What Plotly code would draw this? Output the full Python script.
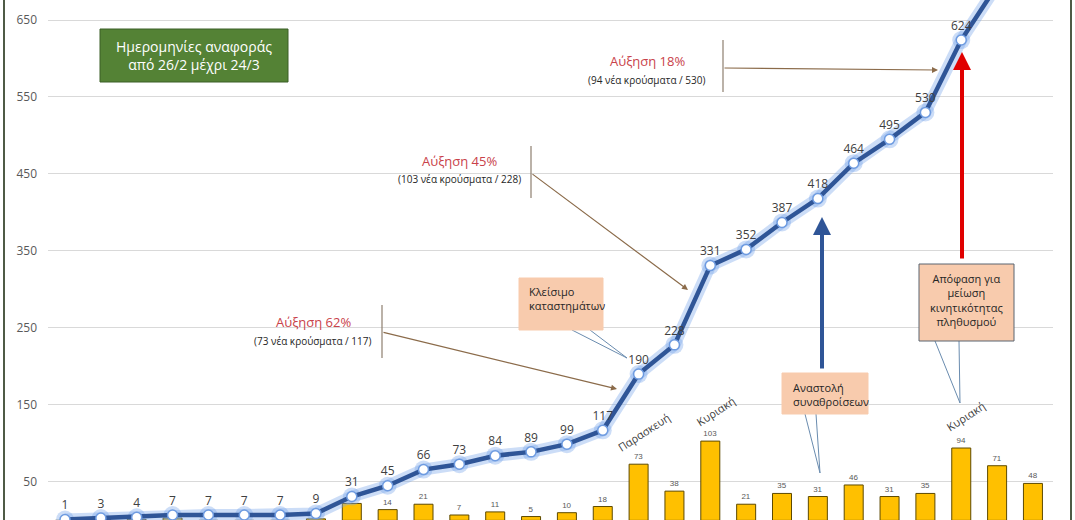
import plotly.graph_objects as go

# ---------------- data ----------------
dates = ["26/2", "27/2", "28/2", "29/2"] + [f"{d}/3" for d in range(1, 25)]
total_cases = [1, 3, 4, 7, 7, 7, 7, 9, 31, 45, 66, 73, 84, 89, 99, 117,
               190, 228, 331, 352, 387, 418, 464, 495, 530, 624, 695, 743]
new_cases = [0, 2, 1, 3, 0, 0, 0, 2, 22, 14, 21, 7, 11, 5, 10, 18,
             73, 38, 103, 21, 35, 31, 46, 31, 35, 94, 71, 48]
new_case_labels = ["" if i < 8 else str(v) for i, v in enumerate(new_cases)]
y_ticks = [50, 150, 250, 350, 450, 550, 650]
Y_MAX = 676

# ---------------- geometry helpers (layout only) ----------------
W, H = 1075, 520
PL, PR, PT, PB = 48, 1053, 0, 520
STEP = 35.85
X0 = 65


def px(x):
    return (x - PL) / (PR - PL)


def py(y):
    return 1 - (y - PT) / (PB - PT)


xs = list(range(len(dates)))
line_labels = [str(v) if v < Y_MAX - 20 else "" for v in total_cases]

fig = go.Figure()

# bars: daily new cases
fig.add_trace(go.Bar(
    x=xs, y=new_cases, text=new_case_labels, textposition="outside",
    textfont=dict(family="Liberation Sans", size=8, color="#595959"),
    marker=dict(color="#FFC000", line=dict(color="#5E4A00", width=1)),
    width=0.53, customdata=dates, hovertemplate="%{customdata}: %{y}<extra></extra>",
    cliponaxis=False,
))

# glow under the line
fig.add_trace(go.Scatter(
    x=xs, y=total_cases, mode="lines+markers",
    line=dict(color="rgba(120,165,235,0.38)", width=12),
    marker=dict(size=18, color="rgba(120,165,235,0.38)"),
    hoverinfo="skip",
))

# main cumulative line
fig.add_trace(go.Scatter(
    x=xs, y=total_cases, mode="lines+markers+text",
    text=line_labels, textposition="top center",
    textfont=dict(family="Open Sans", size=12, color="#404040"),
    line=dict(color="#2F5597", width=4.5),
    marker=dict(size=10, color="white", line=dict(color="#6E9BE0", width=1.5)),
    customdata=dates, hovertemplate="%{customdata}: %{y}<extra></extra>",
))

shapes = []
annotations = []


def note(x, y, text, size, color, family="Open Sans", **kw):
    d = dict(xref="paper", yref="paper", x=px(x), y=py(y), text=text,
             showarrow=False, xanchor="center", yanchor="middle",
             font=dict(family=family, size=size, color=color))
    d.update(kw)
    annotations.append(d)


# outer frame lines
for fx in (4, 1071):
    shapes.append(dict(type="line", xref="paper", yref="paper",
                       x0=px(fx), x1=px(fx), y0=0, y1=1,
                       line=dict(color="#4F5B46", width=2)))

# green info box
shapes.append(dict(type="rect", xref="paper", yref="paper",
                   x0=px(100), x1=px(288), y0=py(82), y1=py(29),
                   fillcolor="#548235", line=dict(color="#3B5E26", width=1)))
note(194, 55.5, "Ημερομηνίες αναφοράς<br>από 26/2 μέχρι 24/3", 14, "white")

# increase annotations
incr = [
    ("Αύξηση 62%", "(73 νέα κρούσματα / 117)", 313, 322, 341, 382, 305, 358, 332, 617, 389),
    ("Αύξηση 45%", "(103 νέα κρούσματα / 228)", 459, 161, 179, 531, 146, 198, 173, 688, 290),
    ("Αύξηση 18%", "(94 νέα κρούσματα / 530)", 647, 61, 80, 723, 40, 92, 68, 938, 70),
]
for t1, t2, cx, y1, y2, bx, by0, by1, ay_, tx, ty in incr:
    note(cx, y1, t1, 13, "#C9424A")
    note(cx, y2, t2, 10, "#262626")
    shapes.append(dict(type="line", xref="paper", yref="paper",
                       x0=px(bx), x1=px(bx), y0=py(by1), y1=py(by0),
                       line=dict(color="#8E7F6F", width=1.2)))
    annotations.append(dict(xref="paper", yref="paper", x=px(tx), y=py(ty), text="",
                            showarrow=True, axref="pixel", ayref="pixel",
                            ax=bx - tx, ay=ay_ - ty, arrowhead=2, arrowsize=1,
                            arrowwidth=1.2, arrowcolor="#8B6B4A"))

# callout boxes
callouts = [
    ("Κλείσιμο<br>καταστημάτων", 519, 603, 278, 330, "left", 527, 298,
     [(572, 330), (590, 330)], (627, 358), None),
    ("Αναστολή<br>συναθροίσεων", 782, 868, 373, 414, "left", 791, 394.5,
     [(805, 414), (816, 414)], (820, 473), None),
    ("Απόφαση για<br>μείωση<br>κινητικότητας<br>πληθυσμού", 919, 1014, 264, 341, "center", 966.5, 300,
     [(935, 341), (959, 341)], (960, 403), "#5A6570"),
]
for txt, x0, x1, y0, y1, al, tx, ty, bases, tip, border in callouts:
    for bxp, byp in bases:
        shapes.append(dict(type="line", xref="paper", yref="paper",
                           x0=px(bxp), x1=px(tip[0]), y0=py(byp), y1=py(tip[1]),
                           line=dict(color="#6A8CAF", width=1)))
    shapes.append(dict(type="rect", xref="paper", yref="paper",
                       x0=px(x0), x1=px(x1), y0=py(y1), y1=py(y0),
                       fillcolor="#F8CBAD",
                       line=dict(color=border if border else "#F8CBAD", width=1)))
    note(tx, ty, txt, 11, "#262626", xanchor="left" if al == "left" else "center", align=al)

# big vertical arrows
annotations.append(dict(xref="paper", yref="paper", x=px(822), y=py(217), text="",
                        showarrow=True, axref="pixel", ayref="pixel", ax=0, ay=153,
                        arrowhead=2, arrowsize=0.9, arrowwidth=4, arrowcolor="#2F5597"))
annotations.append(dict(xref="paper", yref="paper", x=px(962), y=py(52), text="",
                        showarrow=True, axref="pixel", ayref="pixel", ax=0, ay=208,
                        arrowhead=2, arrowsize=0.9, arrowwidth=4, arrowcolor="#E00000"))

# rotated day names
for txt, cx, cy in [("Παρασκευή", 643, 432), ("Κυριακή", 715, 411), ("Κυριακή", 965, 416)]:
    note(cx, cy, txt, 11, "#404040", textangle=-33)

fig.update_layout(
    width=W, height=H,
    margin=dict(l=PL, r=W - PR, t=PT, b=H - PB, pad=0),
    plot_bgcolor="white", paper_bgcolor="white",
    showlegend=False, barmode="overlay",
    shapes=shapes, annotations=annotations,
    xaxis=dict(range=[(PL - X0) / STEP, (PR - X0) / STEP], visible=False,
               showgrid=False, zeroline=False),
    yaxis=dict(range=[0.5, Y_MAX], tickvals=y_ticks, showgrid=True, gridcolor="#D9D9D9",
               gridwidth=1, zeroline=False, showline=False, ticks="",
               ticklabelstandoff=10,
               tickfont=dict(family="Open Sans", size=12, color="#595959")),
)

fig.write_html("out.html", config={"displayModeBar": False},
               post_script="document.body.style.margin='0';document.body.style.overflow='hidden';")
